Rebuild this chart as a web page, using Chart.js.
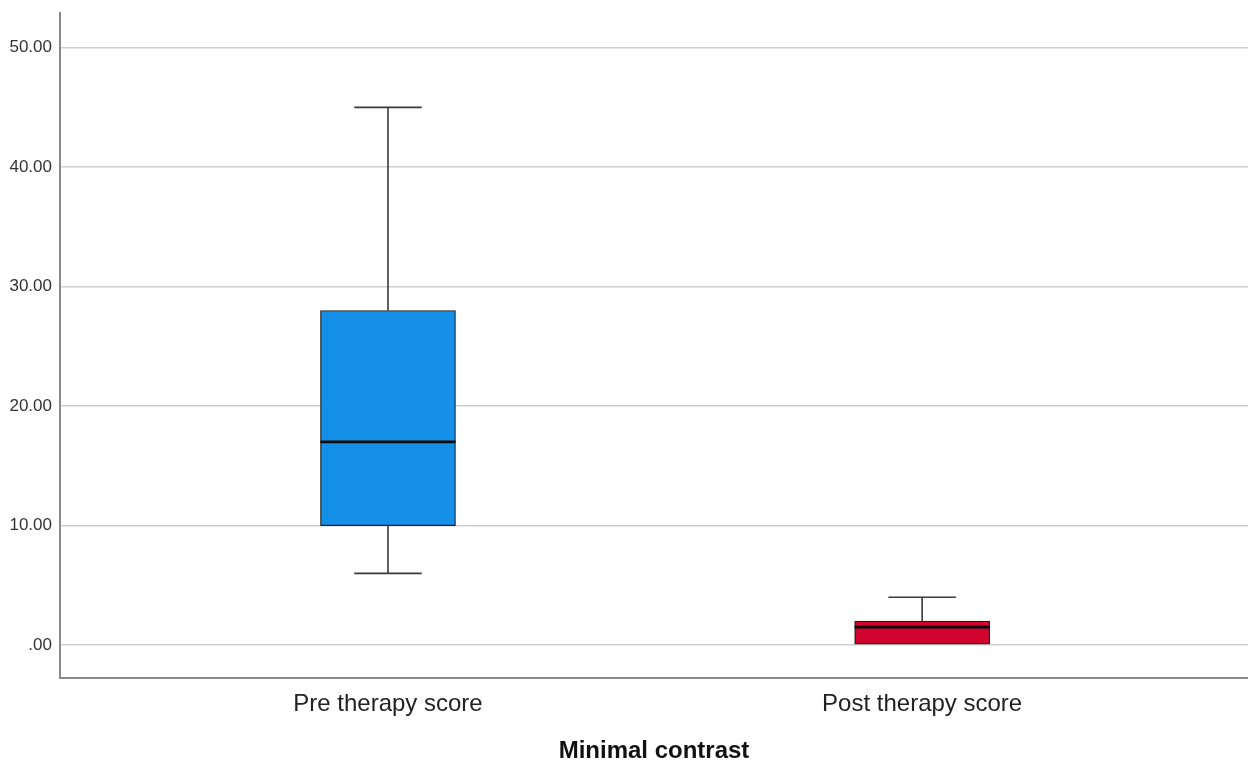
<!DOCTYPE html>
<html>
<head>
<meta charset="utf-8">
<style>
  html, body { margin: 0; padding: 0; background: #ffffff; }
  canvas { display: block; }
</style>
<script src="https://cdn.jsdelivr.net/npm/chart.js@4/dist/chart.umd.min.js"></script>
</head>
<body>
<canvas id="c" width="1248" height="763"></canvas>
<script>
// ---- data ----
const categories = ['Pre therapy score', 'Post therapy score'];
const positions  = [1, 2];
const mins    = [6, 0];
const q1s     = [10, 0];
const medians = [17, 1.5];
const q3s     = [28, 2];
const maxs    = [45, 4];
const yTicks  = [0, 10, 20, 30, 40, 50];
const axisTitle = 'Minimal contrast';
const boxColors = ['#1490e8', '#d2022e'];

const boxData = positions.map((p, i) => ({ x: p, y: [q1s[i], q3s[i]] }));

const boxplotPlugin = {
  id: 'boxWhiskers',
  afterDatasetsDraw(chart) {
    const ctx = chart.ctx;
    const xs = chart.scales.x, ys = chart.scales.y;
    const meta = chart.getDatasetMeta(0);
    ctx.save();
    positions.forEach((p, i) => {
      const x = xs.getPixelForValue(p);
      const half = meta.data[i].width / 2;
      const capHalf = half / 2;
      ctx.strokeStyle = '#3a3a3a';
      ctx.lineWidth = 1.6;
      // upper whisker
      if (maxs[i] > q3s[i]) {
        ctx.beginPath();
        ctx.moveTo(x, ys.getPixelForValue(q3s[i]));
        ctx.lineTo(x, ys.getPixelForValue(maxs[i]));
        ctx.moveTo(x - capHalf, ys.getPixelForValue(maxs[i]));
        ctx.lineTo(x + capHalf, ys.getPixelForValue(maxs[i]));
        ctx.stroke();
      }
      // lower whisker
      if (mins[i] < q1s[i]) {
        ctx.beginPath();
        ctx.moveTo(x, ys.getPixelForValue(q1s[i]));
        ctx.lineTo(x, ys.getPixelForValue(mins[i]));
        ctx.moveTo(x - capHalf, ys.getPixelForValue(mins[i]));
        ctx.lineTo(x + capHalf, ys.getPixelForValue(mins[i]));
        ctx.stroke();
      }
      // median
      ctx.strokeStyle = '#0a0a0a';
      ctx.lineWidth = 2.6;
      ctx.beginPath();
      const my = ys.getPixelForValue(medians[i]);
      ctx.moveTo(x - half, my);
      ctx.lineTo(x + half, my);
      ctx.stroke();
    });
    ctx.restore();
  }
};

new Chart(document.getElementById('c'), {
  type: 'bar',
  data: {
    datasets: [{
      data: boxData,
      backgroundColor: boxColors,
      borderColor: '#1c1c1c',
      borderWidth: 1.2,
      borderSkipped: false,
      barThickness: 135
    }]
  },
  options: {
    responsive: false,
    animation: false,
    layout: { padding: { top: 13, right: 0, left: 0, bottom: 0 } },
    plugins: { legend: { display: false }, tooltip: { enabled: false } },
    scales: {
      x: {
        type: 'linear',
        min: 0.386,
        max: 2.61,
        offset: false,
        grid: { display: false, drawTicks: false },
        border: { display: true, color: '#8a8a8a', width: 2 },
        afterBuildTicks(scale) { scale.ticks = positions.map(v => ({ value: v })); },
        afterFit(scale) { scale.height = 85; scale.paddingLeft = 0; scale.paddingRight = 0; },
        ticks: {
          padding: 12,
          color: '#222222',
          font: { family: 'Liberation Sans, Arial, sans-serif', size: 24, lineHeight: 1.2 },
          callback: (v) => categories[positions.indexOf(v)] || ''
        },
        title: {
          display: true,
          text: axisTitle,
          color: '#111111',
          padding: { top: 0, bottom: 0 },
          font: { family: 'Liberation Sans, Arial, sans-serif', size: 24, weight: 'bold', lineHeight: 0.95 }
        }
      },
      y: {
        type: 'linear',
        min: -2.76,
        max: 52.9,
        grid: { color: '#d0d0d0', lineWidth: 1.6, drawTicks: false },
        border: { display: true, color: '#8a8a8a', width: 2 },
        afterBuildTicks(scale) { scale.ticks = yTicks.map(v => ({ value: v })); },
        afterFit(scale) { scale.width = 60; scale.paddingTop = 0; scale.paddingBottom = 0; },
        ticks: {
          padding: 8,
          color: '#333333',
          font: { family: 'Liberation Sans, Arial, sans-serif', size: 17 },
          callback: (v) => v === 0 ? '.00' : v.toFixed(2)
        }
      }
    }
  },
  plugins: [boxplotPlugin]
});
</script>
</body>
</html>
